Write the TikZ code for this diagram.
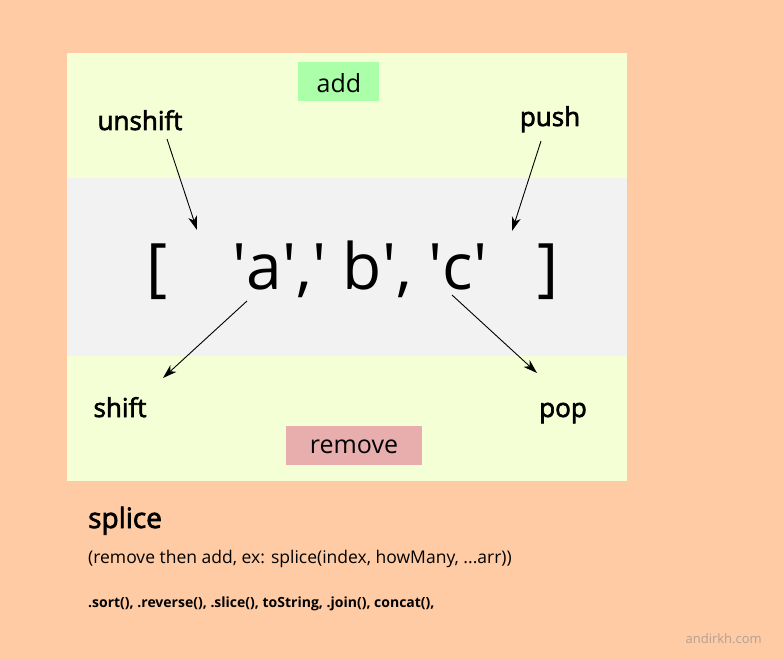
\documentclass[tikz,border=0pt]{standalone}
\usepackage{fontspec}
\setmainfont{Open Sans}
\newfontfamily\semibold[FakeBold=2.5]{Open Sans}
\newfontfamily\thinface{Open Sans}
\usetikzlibrary{arrows.meta}
\definecolor{peach}{RGB}{255,203,164}
\definecolor{paleyellow}{RGB}{245,255,213}
\definecolor{bandgray}{RGB}{242,242,242}
\definecolor{addgreen}{RGB}{171,255,168}
\definecolor{removepink}{RGB}{232,174,174}
\definecolor{urlgray}{RGB}{178,160,148}
\newcommand{\q}{\textquotesingle}

\begin{document}
\begin{tikzpicture}[
            x = 1pt, y = -1pt,
            > = {Stealth[length = 14pt, width = 9pt, inset = 4pt]}, % arrow head style
            label/.style = {anchor = base, inner sep = 0pt, font = \semibold\fontsize{26}{30}\selectfont},
            tag/.style = {anchor = base, inner sep = 0pt, font = \thinface\fontsize{25}{30}\selectfont},
            big/.style = {anchor = base, inner sep = 0pt, font = \thinface\fontsize{64}{80}\selectfont},
            note/.style = {anchor = base west, inner sep = 0pt},
            move/.style = {->, line width = 0.9pt}
            ]

        % background
        \fill[peach] (0,0) rectangle (784,660);
        \useasboundingbox (0,0) rectangle (784,660);
        \fill[paleyellow] (67,53) rectangle (627,481);
        \fill[bandgray] (67,178) rectangle (627,356);
        \fill[addgreen] (298,62) rectangle (379,101);
        \fill[removepink] (286,426) rectangle (422,465);

        % add / remove
        \node[tag] (add) at (339,93) {add};
        \node[tag] (remove) at (354,453) {remove};

        % array
        \node[big] (open) at (157,290) {[};
        \node[big] (items) at (360,290) {\q a\q,\q\ b\q, \q c\q};
        \node[big] (close) at (548,290) {]};

        % methods
        \node[label] (unshift) at (140,130) {unshift};
        \node[label] (push) at (550,126) {push};
        \node[label] (shift) at (120,417) {shift};
        \node[label] (pop) at (563,417) {pop};

        \coordinate (unshiftFrom) at (167,139);
        \coordinate (unshiftTo) at (197,230);
        \coordinate (pushFrom) at (541,141);
        \coordinate (pushTo) at (512,231);
        \coordinate (shiftFrom) at (247,301);
        \coordinate (shiftTo) at (163,378);
        \coordinate (popFrom) at (452,295);
        \coordinate (popTo) at (537,373);

        \draw[move] (unshiftFrom) -- (unshiftTo);
        \draw[move] (pushFrom) -- (pushTo);
        \draw[move] (shiftFrom) -- (shiftTo);
        \draw[move] (popFrom) -- (popTo);

        % notes
        \node[note, font = \semibold\fontsize{28}{32}\selectfont] (splice) at (88,528) {splice};
        \node[note, font = \fontsize{17.5}{20}\selectfont] (spliceArgs) at (88,563) {(remove then add, ex: splice(index, howMany, ...arr))};
        \node[note, font = \bfseries\fontsize{14}{17}\selectfont] (others) at (88,607) {.sort(), .reverse(), .slice(), toString, .join(), concat(),};
        \node[anchor = base east, inner sep = 0pt, text = urlgray, font = \fontsize{13}{16}\selectfont] (site) at (762,643) {andirkh.com};

  \end{tikzpicture}
\end{document}
